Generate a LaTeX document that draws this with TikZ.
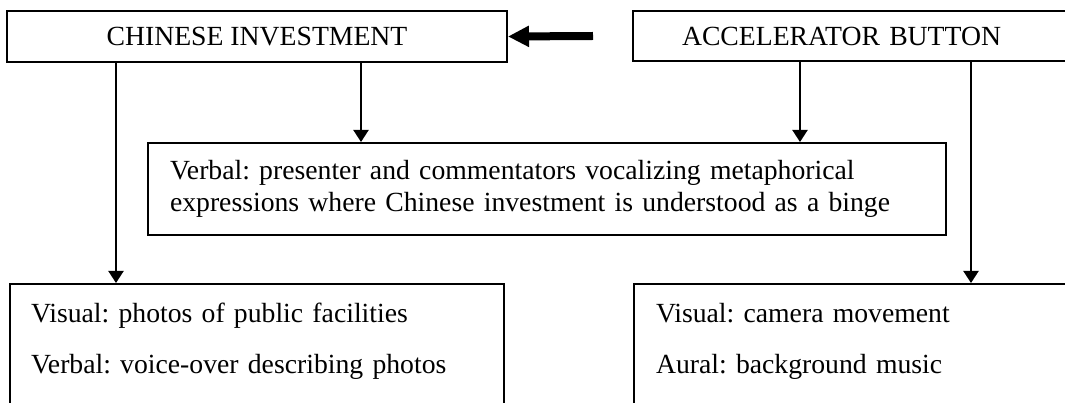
\documentclass[tikz,border=0pt]{standalone}
\usepackage{fontspec}
\setmainfont{Liberation Serif}
\usetikzlibrary{arrows.meta}
\frenchspacing

\begin{document}
\begin{tikzpicture}[x=1pt, y=-1pt, line width=2pt,
    font=\fontsize{27.7}{32}\selectfont,
    box/.style={draw, rectangle, inner sep=0pt},
    listbox/.style={box, anchor=north west, align=left, inner ysep=19pt, text depth=150pt,
        font=\fontsize{27.7}{51}\selectfont},
    link/.style={-{Triangle[length=12pt, width=15pt]}}]
    \clip (0, 0) rectangle (1065, 403);
    \node[box, minimum width=500, minimum height=51] (invest) at (257, 36.5) {CHINESE INVESTMENT};
    \node[box, anchor=west, minimum height=50, text width=440, inner xsep=49, align=left] (button) at (632, 36) {ACCELERATOR BUTTON};
    \node[box, minimum height=92, text width=754, inner xsep=22, align=left] (verbal) at (547, 189)
        {Verbal: presenter and commentators vocalizing metaphorical\\expressions where Chinese investment is understood as a binge};
    \node[listbox, text width=452, inner xsep=21] (photos) at (9, 283)
        {Visual: photos of public facilities\\Verbal: voice-over describing photos};
    \node[listbox, text width=450, inner xsep=22] (camera) at (633, 283)
        {Visual: camera movement\\Aural: background music};
    \draw [link] ([xshift=110]invest.south west) -- ([xshift=110]invest.south west |- photos.north);
    \draw [link] ([xshift=355]invest.south west) -- ([xshift=355]invest.south west |- verbal.north);
    \draw [link] ([xshift=168]button.south west) -- ([xshift=168]button.south west |- verbal.north);
    \draw [link] ([xshift=339]button.south west) -- ([xshift=339]button.south west |- camera.north);
    \draw [-{Triangle[length=21pt, width=20pt]}, line width=8pt] ([xshift=-39]button.west) -- (invest.east);
\end{tikzpicture}
\end{document}
